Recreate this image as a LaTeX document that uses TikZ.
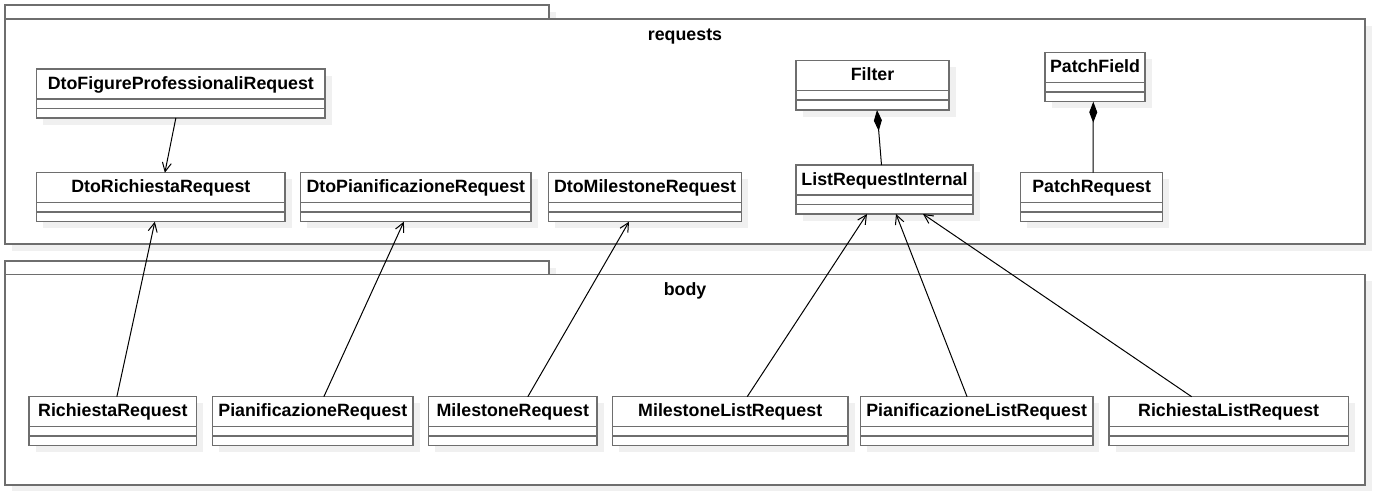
\documentclass[tikz,border=0pt]{standalone}
\usepackage{fontspec}
\setmainfont{Liberation Sans}
\usetikzlibrary{arrows.meta,calc}
\definecolor{strokec}{RGB}{110,110,110}
\definecolor{shadowc}{RGB}{240,240,240}
\tikzset{
  clsbox/.style={rectangle, draw=strokec, line width=1.5pt, fill=white, inner sep=0pt, outer sep=0pt},
  clsline/.style={draw=strokec, line width=1.5pt},
  lbl/.style={font=\fontsize{17.8}{20}\selectfont\bfseries, inner sep=0pt, anchor=base},
  assoc/.style={draw=black, line width=1pt, -{Straight Barb[length=9pt,width=9pt]}},
  comp/.style={draw=black, line width=1pt, {Diamond[length=21pt,width=8pt]}-},
  shadowbox/.style={fill=shadowc},
}
\newcommand\umlcls[6]{%
  \fill[shadowbox] ({#2+6.5},{#3+6.5}) rectangle ({#4+6.5},{#5+6.5});
  \node[clsbox, minimum width={#4-#2}, minimum height={#5-#3}, anchor=north west] (#1) at (#2,#3) {};
  \draw[clsline] ([yshift=-30pt]#1.north west) -- ([yshift=-30pt]#1.north east);
  \draw[clsline] ([yshift=-39.5pt]#1.north west) -- ([yshift=-39.5pt]#1.north east);
  \node[lbl] at ([yshift=-20pt]#1.north) {#6};
}
\begin{document}
\begin{tikzpicture}[x=1pt,y=-1pt]
\useasboundingbox (0,0) rectangle (1378,491);
% package shadows
\fill[shadowbox] (11.5,11.5) rectangle (555.5,25.5);
\fill[shadowbox] (11.5,25.5) rectangle (1371.5,250.5);
\fill[shadowbox] (11.5,267.5) rectangle (555.5,280.8);
\fill[shadowbox] (11.5,280.8) rectangle (1371.5,491);
% packages
\node[clsbox, minimum width=544, minimum height=14, anchor=north west] (reqtab) at (5,5) {};
\node[clsbox, minimum width=1360, minimum height=225, anchor=north west] (requests) at (5,19) {};
\node[lbl] (reqname) at (685,40) {requests};
\node[clsbox, minimum width=544, minimum height=13.3, anchor=north west] (bodytab) at (5,261) {};
\node[clsbox, minimum width=1360, minimum height=210.7, anchor=north west] (body) at (5,274.3) {};
\node[lbl] (bodyname) at (685,295) {body};
% classes
\umlcls{dtofig}{36.7}{69}{325}{118}{DtoFigureProfessionaliRequest}
\umlcls{dtorich}{36.7}{172.7}{285}{221.7}{DtoRichiestaRequest}
\umlcls{dtopian}{300.7}{172.7}{531}{221.7}{DtoPianificazioneRequest}
\umlcls{dtomile}{548.3}{172.7}{741.7}{221.7}{DtoMilestoneRequest}
\umlcls{filter}{796}{60.7}{949}{110}{Filter}
\umlcls{lri}{796}{165}{973}{214}{ListRequestInternal}
\umlcls{patchfield}{1045}{52.7}{1145}{101.7}{PatchField}
\umlcls{patchreq}{1020.7}{172.7}{1162.7}{221.7}{PatchRequest}
\umlcls{richreq}{29}{396.7}{196.7}{445.7}{RichiestaRequest}
\umlcls{pianreq}{212.7}{396.7}{413}{445.7}{PianificazioneRequest}
\umlcls{milereq}{428.6}{396.7}{597}{445.7}{MilestoneRequest}
\umlcls{milelist}{612.4}{396.7}{848}{445.7}{MilestoneListRequest}
\umlcls{pianlist}{860.5}{396.7}{1092.8}{445.7}{PianificazioneListRequest}
\umlcls{richlist}{1109}{396.7}{1348.3}{445.7}{RichiestaListRequest}
% connectors
\draw[assoc] ([xshift=-5pt]dtofig.south) -- ([xshift=4pt]dtorich.north);
\draw[assoc] ([xshift=4pt]richreq.north) -- ([xshift=-6pt]dtorich.south);
\draw[assoc] ([xshift=11pt]pianreq.north) -- ([xshift=-12pt]dtopian.south);
\draw[assoc] ([xshift=15pt]milereq.north) -- ([xshift=-16pt]dtomile.south);
\draw[assoc] ([xshift=17pt]milelist.north) -- ([xshift=-17.5pt]lri.south);
\draw[assoc] ([xshift=-9.6pt]pianlist.north) -- ([xshift=11.5pt]lri.south);
\draw[assoc] ([xshift=-37pt]richlist.north) -- ([xshift=38.5pt]lri.south);
\draw[comp] ([xshift=4.5pt]filter.south) -- ([xshift=-3pt]lri.north);
\draw[comp] ([xshift=-1.7pt]patchfield.south) -- ([xshift=1.3pt]patchreq.north);
\end{tikzpicture}
\end{document}
